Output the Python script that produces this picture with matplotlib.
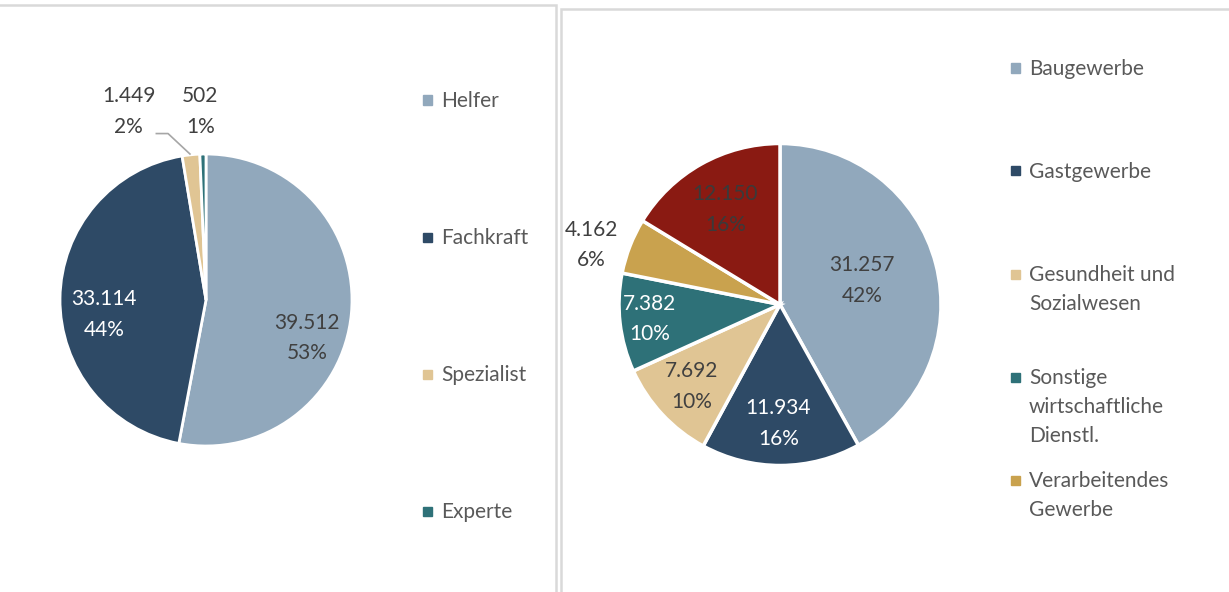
import matplotlib
matplotlib.use("Agg")
import matplotlib.pyplot as plt
from matplotlib.patches import Rectangle

plt.rcParams['font.family'] = ['Lato', 'DejaVu Sans']

# left chart: Anforderungsniveau
lvl_names = ["Helfer", "Fachkraft", "Spezialist", "Experte"]
lvl_values = [39512, 33114, 1449, 502]
lvl_pct = ["53%", "44%", "2%", "1%"]
lvl_colors = ["#91a8bc", "#2e4a66", "#e0c594", "#2e7178"]

# right chart: Branchen (last slice not shown in legend)
br_names = ["Baugewerbe", "Gastgewerbe", "Gesundheit und\nSozialwesen",
            "Sonstige\nwirtschaftliche\nDienstl.", "Verarbeitendes\nGewerbe", "Übrige"]
br_values = [31257, 11934, 7692, 7382, 4162, 12150]
br_pct = ["42%", "16%", "10%", "10%", "6%", "16%"]
br_colors = ["#91a8bc", "#2e4a66", "#e0c594", "#2e7178", "#c9a24e", "#8a1a12"]

W, H = 1229, 592
FS = 15
fig = plt.figure(figsize=(W / 100, H / 100), dpi=100)


def fmt(v):
    return f"{v:,}".replace(",", ".")


def pie_axes(cx, cy, r):
    ax = fig.add_axes([(cx - r) / W, (H - cy - r) / H, 2 * r / W, 2 * r / H])
    ax.axis("off")
    return ax


# panel borders
for x0, y0, x1, y1 in [(-2, 5, 556, 600), (561, 9, 1235, 600)]:
    fig.add_artist(Rectangle((x0 / W, 1 - y1 / H), (x1 - x0) / W, (y1 - y0) / H,
                             transform=fig.transFigure, fill=False,
                             edgecolor="#d9d9d9", linewidth=1.8))

# ---- left pie
ax1 = pie_axes(206, 300, 146)
ax1.pie(lvl_values, colors=lvl_colors, startangle=90, counterclock=False,
        radius=1, wedgeprops=dict(edgecolor="white", linewidth=2))
ax1.set_xlim(-1, 1)
ax1.set_ylim(-1, 1)
lbl_pos1 = [(0.69, -0.26), (-0.70, -0.10), (-0.53, 1.29), (-0.04, 1.29)]
lbl_col1 = ["#404040", "white", "#404040", "#404040"]
for v, p, pos, c in zip(lvl_values, lvl_pct, lbl_pos1, lbl_col1):
    ax1.text(pos[0], pos[1], fmt(v) + "\n" + p, ha="center", va="center",
             fontsize=FS, color=c, linespacing=1.65, clip_on=False)
ax1.plot([-0.34, -0.26, -0.11], [1.14, 1.14, 1.0], color="#a6a6a6",
         linewidth=1.2, clip_on=False)

# ---- right pie
ax2 = pie_axes(780, 304.5, 161)
ax2.pie(br_values, colors=br_colors, startangle=90, counterclock=False,
        radius=1, wedgeprops=dict(edgecolor="white", linewidth=2.5))
ax2.set_xlim(-1, 1)
ax2.set_ylim(-1, 1)
lbl_pos2 = [(0.51, 0.15), (-0.01, -0.74), (-0.55, -0.51), (-0.81, -0.09),
            (-1.17, 0.37), (-0.34, 0.59)]
lbl_col2 = ["#404040", "white", "#404040", "white", "#404040", "#3a3a3a"]
for v, p, pos, c in zip(br_values, br_pct, lbl_pos2, lbl_col2):
    ax2.text(pos[0], pos[1], fmt(v) + "\n" + p, ha="center", va="center",
             fontsize=FS, color=c, linespacing=1.65, clip_on=False)


# ---- legends (drawn by hand to keep Excel spacing)
def legend_entry(x, y, name, color, sq_x):
    fig.add_artist(Rectangle((sq_x / W, 1 - (y + 4.5) / H), 9 / W, 9 / H,
                             transform=fig.transFigure, color=color))
    for i, line in enumerate(name.split("\n")):
        fig.text(x / W, 1 - (y + 7 + 29 * i) / H, line, ha="left",
                 va="baseline", fontsize=FS, color="#595959")


for name, col, y in zip(lvl_names, lvl_colors, [100, 237, 374, 511]):
    legend_entry(441, y, name, col, 423)

for name, col, y in zip(br_names[:5], br_colors[:5], [68, 171, 274, 377, 480]):
    legend_entry(1029, y, name, col, 1011)

fig.savefig("out.png", dpi=100)
